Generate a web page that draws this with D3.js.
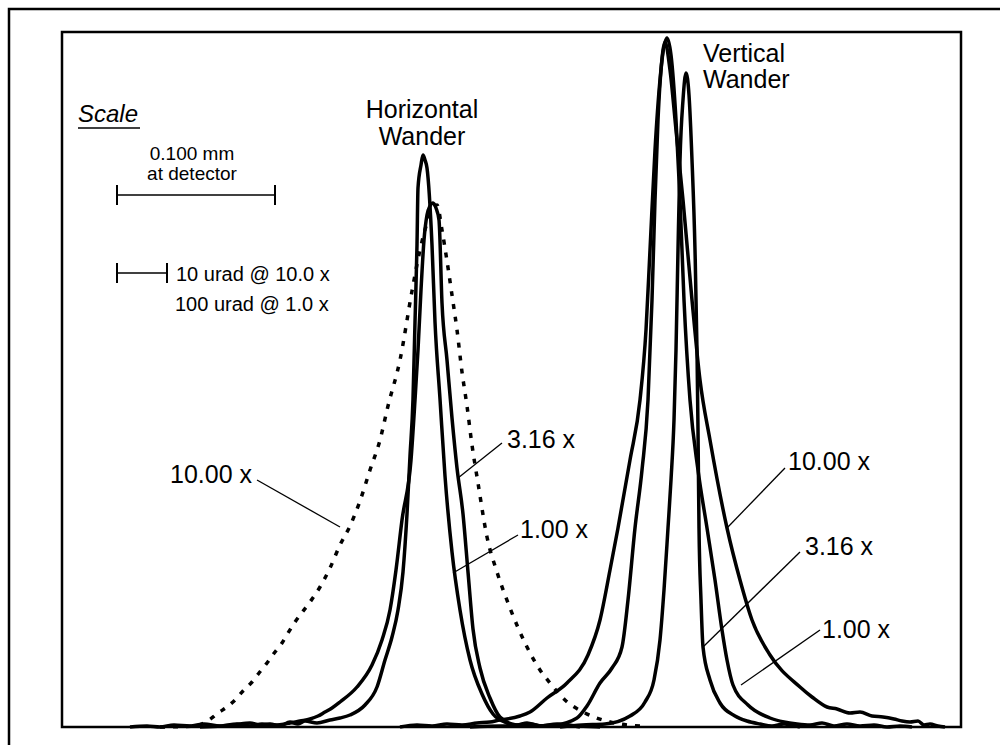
<!DOCTYPE html>
<html>
<head>
<meta charset="utf-8">
<script src="https://cdn.jsdelivr.net/npm/d3@7.9.0/dist/d3.min.js"></script>
<style>
  html, body { margin: 0; padding: 0; background: #fff; }
  svg { display: block; }
  text { font-family: "Liberation Sans", Arial, sans-serif; fill: #000; }
</style>
</head>
<body>
<svg id="chart" width="1006" height="745"></svg>
<script>
// beam wander profiles, x = detector position (px), y = counts
const hWander100 = [[68,0],[85,1],[98,0],[112,2],[128,1],[142,3],[158,1],[172,2],[188,4],[198,2],[208,3],[218,1],[228,5],[236,3],[243,6],[255,4],[268,7],[278,9],[288,12],[303,22],[315,40],[323,67],[330,90],[336,117],[341,155],[345,213],[348,271],[351,328],[353,405],[355,482],[356,539],[359,562],[361,572],
  [363,567],[365,559],[370,482],[373,405],[378,328],[383,251],[390,175],[398,117],[408,67],[420,33],[431,13],[445,4],[455,2],[468,3],[480,1],[498,2],[515,1],[538,0]];
const hWander316 = [[138,0],[160,1],[175,3],[188,1],[200,3],[212,2],[228,4],[238,6],[248,8],[256,11],[263,15],[270,19],[278,25],[295,40],[310,62],[320,87],[328,117],[334,157],[340,207],[349,267],[353,327],[356,377],[359,437],[362,487],[365,512],[368,521],[371,524],
  [374,519],[377,507],[380,424],[385,367],[390,309],[395,259],[401,213],[406,155],[411,98],[418,59],[428,29],[438,10],[455,2],[465,4],[478,1],[495,3],[518,0]];
const hWander1000 = [[98,0],[133,1],[147,7],[156,14],[165,20],[173,27],[181,36],[190,45],[197,54],[205,64],[213,75],[220,84],[226,94],[233,105],[248,125],[258,140],[268,159],[278,182],[288,201],[298,226],[308,257],[318,287],[326,321],[338,367],[350,436],[358,477],[366,507],[375,522],
  [380,497],[385,466],[390,432],[395,397],[400,355],[405,321],[410,282],[416,244],[425,190],[435,155],[448,119],[465,80],[478,57],[488,44],[503,27],[523,14],[548,5],[578,1]];

const vWander100 = [[408,0],[438,1],[468,1],[493,2],[515,9],[525,21],[538,44],[550,59],[560,80],[566,127],[573,199],[580,257],[586,327],[590,427],[593,527],[596,607],[600,667],[605,689],
  [609,672],[614,607],[618,527],[622,427],[628,327],[636,257],[645,199],[653,147],[660,97],[665,67],[671,42],[686,22],[708,9],[722,5],[735,3],[748,2],[760,4],[772,1],[785,3],[798,1],[812,2],[825,0],[838,1],[850,0]];
const vWander316 = [[498,0],[520,2],[543,3],[568,11],[583,25],[592,47],[598,87],[602,137],[606,199],[609,247],[612,307],[614,377],[616,477],[618,567],[621,627],[624,654],
  [627,632],[630,567],[633,477],[635,377],[636,297],[637,199],[639,127],[641,80],[648,47],[658,24],[673,11],[685,6],[698,3],[710,1],[722,3],[738,0]];
const vWander1000 = [[338,0],[355,2],[370,1],[385,3],[400,2],[415,4],[428,5],[438,7],[445,8],[458,11],[468,15],[485,29],[505,44],[526,72],[538,107],[548,157],[556,199],[568,267],[578,327],[584,397],[588,477],[593,577],[598,647],[603,685],
  [608,657],[614,597],[621,527],[630,427],[638,347],[648,287],[665,199],[678,147],[690,107],[708,72],[738,40],[750,30],[765,20],[775,18],[788,14],[798,15],[810,11],[821,10],[832,8],[840,6],[848,5],[856,6],[862,2],[868,3],[876,1],[883,0]];

const series = [
  { name: "h1.00", pts: hWander100, dashed: false },
  { name: "h3.16", pts: hWander316, dashed: false },
  { name: "h10.00", pts: hWander1000, dashed: true },
  { name: "v1.00", pts: vWander100, dashed: false },
  { name: "v3.16", pts: vWander316, dashed: false },
  { name: "v10.00", pts: vWander1000, dashed: false }
];

// curve labels: text anchor and leader line ends, in data units
const curveLabels = [
  { text: "10.00 x", at: [108, 244], from: [195, 247], tip: [278, 200] },
  { text: "3.16 x",  at: [445, 279], from: [440, 284], tip: [396, 249] },
  { text: "1.00 x",  at: [458, 189], from: [456, 192], tip: [391, 154] },
  { text: "10.00 x", at: [726, 257], from: [723, 259], tip: [665, 199] },
  { text: "3.16 x",  at: [743, 172], from: [738, 175], tip: [641, 80] },
  { text: "1.00 x",  at: [760, 89],  from: [758, 97],  tip: [679, 42] }
];

const svg = d3.select('#chart');
const box = { left: 62, top: 32, right: 961, bottom: 727 };

const x = d3.scaleLinear().domain([0, 899]).range([box.left, box.right]);
const y = d3.scaleLinear().domain([0, 695]).range([box.bottom, box.top]);

// outer figure frame (only top and left survive in the scan)
svg.append('path')
  .attr('d', 'M9,745 L9,9 L1000,9')
  .attr('fill', 'none').attr('stroke', '#000').attr('stroke-width', 2.5);

// plot box
svg.append('rect')
  .attr('x', box.left).attr('y', box.top)
  .attr('width', box.right - box.left).attr('height', box.bottom - box.top)
  .attr('fill', 'none').attr('stroke', '#000').attr('stroke-width', 2.5);

const line = d3.line()
  .x(d => x(d[0]))
  .y(d => y(d[1]))
  .curve(d3.curveMonotoneX);

svg.selectAll('path.curve')
  .data(series)
  .enter().append('path')
    .attr('class', 'curve')
    .attr('d', d => line(d.pts))
    .attr('fill', 'none')
    .attr('stroke', '#000')
    .attr('stroke-width', d => d.dashed ? 3.5 : 3.5)
    .attr('stroke-dasharray', d => d.dashed ? '5,8' : null)
    .attr('stroke-linejoin', 'round');

// leader lines + labels
svg.selectAll('line.leader')
  .data(curveLabels)
  .enter().append('line')
    .attr('class', 'leader')
    .attr('x1', d => x(d.from[0])).attr('y1', d => y(d.from[1]))
    .attr('x2', d => x(d.tip[0])).attr('y2', d => y(d.tip[1]))
    .attr('stroke', '#000').attr('stroke-width', 1.3);

svg.selectAll('text.clabel')
  .data(curveLabels)
  .enter().append('text')
    .attr('class', 'clabel')
    .attr('x', d => x(d.at[0])).attr('y', d => y(d.at[1]))
    .attr('font-size', 25)
    .text(d => d.text);

// group titles
const hTitle = svg.append('text').attr('font-size', 25).attr('text-anchor', 'middle');
hTitle.append('tspan').attr('x', x(360)).attr('y', y(609)).text('Horizontal');
hTitle.append('tspan').attr('x', x(360)).attr('y', y(582)).text('Wander');

const vTitle = svg.append('text').attr('font-size', 25);
vTitle.append('tspan').attr('x', x(641)).attr('y', y(665)).text('Vertical');
vTitle.append('tspan').attr('x', x(641)).attr('y', y(639)).text('Wander');

// scale legend
const leg = svg.append('g');
leg.append('text').attr('x', 78).attr('y', 122)
  .attr('font-size', 24).attr('font-style', 'italic').text('Scale');
leg.append('line').attr('x1', 78).attr('x2', 140).attr('y1', 128).attr('y2', 128)
  .attr('stroke', '#000').attr('stroke-width', 1.5);

leg.append('text').attr('x', 192).attr('y', 160).attr('font-size', 19)
  .attr('text-anchor', 'middle').text('0.100 mm');
leg.append('text').attr('x', 192).attr('y', 180).attr('font-size', 19)
  .attr('text-anchor', 'middle').text('at detector');

function scaleBar(x0, x1, yy) {
  leg.append('line').attr('x1', x0).attr('x2', x1).attr('y1', yy).attr('y2', yy)
    .attr('stroke', '#000').attr('stroke-width', 1.5);
  [x0, x1].forEach(xx => leg.append('line')
    .attr('x1', xx).attr('x2', xx).attr('y1', yy - 10).attr('y2', yy + 10)
    .attr('stroke', '#000').attr('stroke-width', 2));
}
scaleBar(117, 275, 195);
scaleBar(117, 167, 273);

leg.append('text').attr('x', 176).attr('y', 281).attr('font-size', 20).text('10 urad @ 10.0 x');
leg.append('text').attr('x', 175).attr('y', 311).attr('font-size', 20).text('100 urad @ 1.0 x');
</script>
</body>
</html>
